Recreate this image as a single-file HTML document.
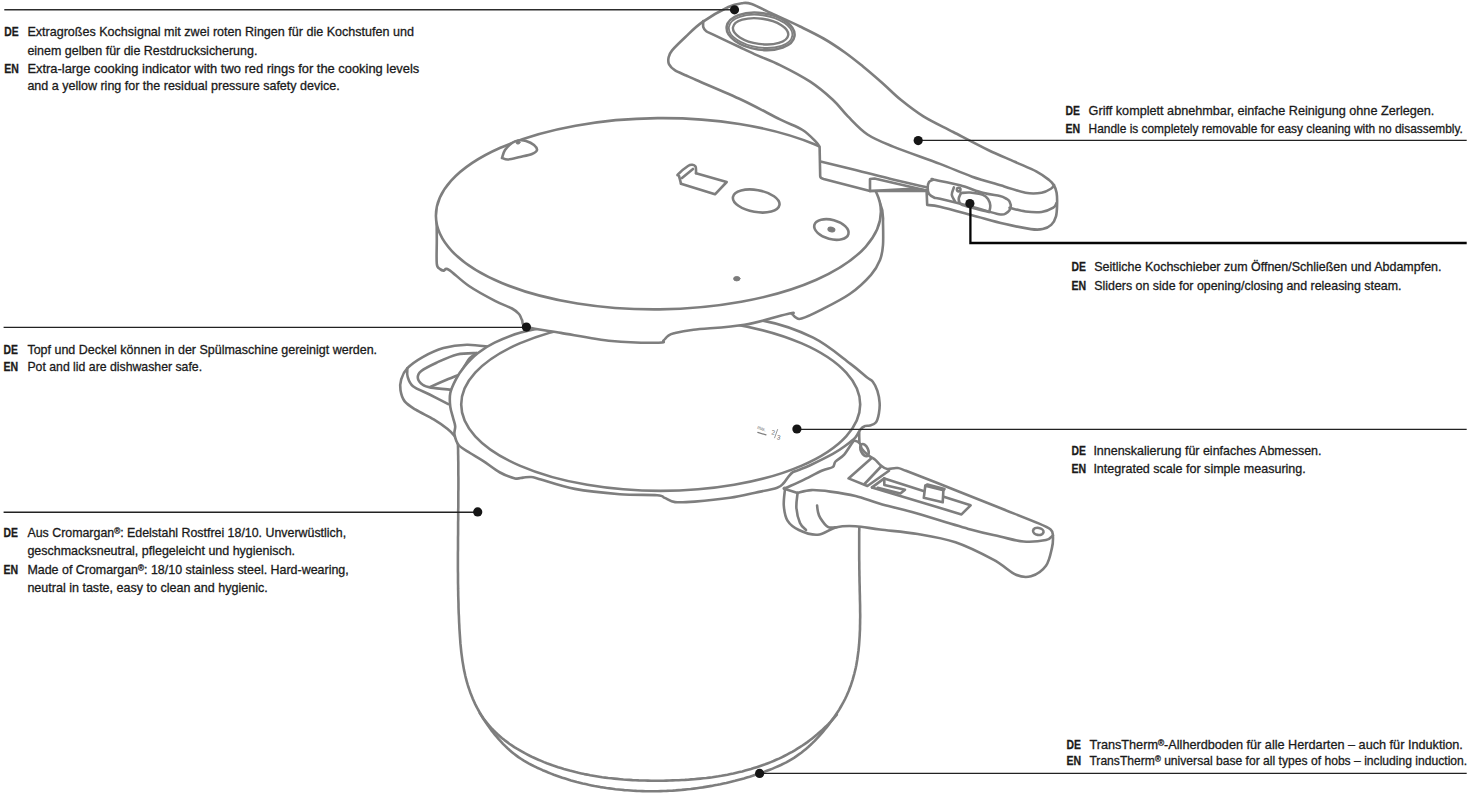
<!DOCTYPE html>
<html><head><meta charset="utf-8"><style>
html,body{margin:0;padding:0;background:#fff;}
body{width:1470px;height:795px;overflow:hidden;position:relative;}
svg{position:absolute;left:0;top:0;}
text{font-family:"Liberation Sans",sans-serif;fill:#1a1a1a;stroke:#1a1a1a;stroke-width:0.3px;}
</style></head><body>
<svg width="1470" height="795" viewBox="0 0 1470 795">
<g fill="none" stroke="#7e7e7e" stroke-width="2.6" stroke-linejoin="round" stroke-linecap="round">
<path d="M457.8,438.0 L457.8,441.0 L457.9,444.0 L458.0,447.1 L458.1,450.1 L458.1,453.1 L458.2,456.1 L458.2,459.1 L458.3,462.1 L458.3,465.1 L458.3,468.2 L458.3,471.2 L458.3,474.2 L458.4,477.2 L458.4,480.2 L458.4,483.2 L458.4,486.3 L458.4,489.3 L458.3,492.3 L458.3,495.3 L458.3,498.3 L458.3,501.3 L458.3,504.4 L458.3,507.4 L458.2,510.4 L458.2,513.4 L458.2,516.4 L458.2,519.4 L458.1,522.5 L458.1,525.5 L458.1,528.5 L458.1,531.5 L458.1,534.5 L458.0,537.6 L458.0,540.6 L458.0,543.6 L458.0,546.6 L458.0,549.6 L457.9,552.6 L457.9,555.7 L457.9,558.7 L457.9,561.7 L457.9,564.7 L457.9,567.7 L457.9,570.8 L458.0,573.8 L458.0,576.8 L458.0,579.8 L458.0,582.8 L458.1,585.8 L458.1,588.9 L458.2,591.9 L458.2,594.9 L458.3,597.9 L458.4,600.9 L458.5,604.0 L458.5,607.0 L458.6,610.0 L458.7,613.0 L458.9,616.0 L459.0,619.0 L459.1,622.1 L459.3,625.1 L459.4,628.1 L459.6,631.1 L459.8,634.1 L460.0,637.1 L460.2,640.2 L460.4,643.2 L460.7,646.2 L461.0,649.2 L461.3,652.1 L461.7,655.1 L462.1,658.1 L462.5,661.1 L463.0,664.0 L463.5,667.0 L464.0,669.9 L464.7,672.9 L465.3,675.8 L466.0,678.7 L466.8,681.6 L467.6,684.4 L468.5,687.3 L469.5,690.1 L470.5,693.0 L471.6,695.8 L472.7,698.6 L473.9,701.3 L475.2,704.1 L476.6,706.8 L478.0,709.5 L479.5,712.2 L481.0,714.9 L482.6,717.5 L484.2,720.1 L485.9,722.6 L487.6,725.1 L489.4,727.6 L491.2,730.1 L493.1,732.5 L495.0,734.8 L497.0,737.1 L498.9,739.4 L501.0,741.6 L503.0,743.8 L505.1,745.9 L507.3,748.0 L509.5,750.0 L511.7,751.9 L514.0,753.8 L516.4,755.6 L518.8,757.4 L521.3,759.0 L523.8,760.6 L526.4,762.1 L529.0,763.6 L531.7,765.0 L534.4,766.3 L537.1,767.7 L539.9,768.9 L542.6,770.2 L545.4,771.3 L548.2,772.5 L551.0,773.6 L553.8,774.7 L556.6,775.7 L559.5,776.7 L562.3,777.7 L565.2,778.6 L568.1,779.5 L571.0,780.4 L573.9,781.2 L576.8,782.0 L579.7,782.7 L582.6,783.5 L585.6,784.1 L588.5,784.8 L591.5,785.4 L594.5,786.0 L597.4,786.5 L600.4,787.1 L603.4,787.5 L606.4,788.0 L609.4,788.4 L612.4,788.8 L615.4,789.2 L618.4,789.5 L621.4,789.8 L624.4,790.1 L627.4,790.3 L630.4,790.5 L633.5,790.7 L636.5,790.9 L639.5,791.0 L642.5,791.1 L645.6,791.2 L648.6,791.2 L651.6,791.2 L654.6,791.2 L657.7,791.2 L660.7,791.1 L663.7,791.0 L666.7,790.9 L669.7,790.7 L672.7,790.6 L675.7,790.4 L678.7,790.1 L681.7,789.9 L684.7,789.6 L687.7,789.3 L690.7,789.0 L693.7,788.6 L696.7,788.2 L699.7,787.8 L702.7,787.4 L705.6,786.9 L708.6,786.4 L711.6,785.9 L714.5,785.3 L717.5,784.8 L720.4,784.2 L723.4,783.5 L726.3,782.9 L729.3,782.2 L732.2,781.5 L735.1,780.8 L738.0,780.0 L741.0,779.2 L743.9,778.4 L746.8,777.5 L749.7,776.7 L752.6,775.8 L755.5,774.8 L758.3,773.9 L761.2,772.9 L764.1,771.9 L766.9,770.8 L769.8,769.7 L772.6,768.6 L775.4,767.4 L778.1,766.2 L780.9,765.0 L783.6,763.6 L786.3,762.3 L788.9,760.8 L791.5,759.3 L794.0,757.8 L796.5,756.1 L798.9,754.4 L801.3,752.7 L803.7,750.8 L806.0,748.9 L808.2,747.0 L810.4,745.0 L812.6,742.9 L814.7,740.8 L816.8,738.6 L818.9,736.4 L820.9,734.1 L822.9,731.8 L824.8,729.5 L826.8,727.1 L828.7,724.7 L830.5,722.3 L832.3,719.8 L834.1,717.3 L835.8,714.8 L837.5,712.2 L839.2,709.6 L840.7,707.0 L842.2,704.3 L843.7,701.7 L845.1,699.0 L846.4,696.3 L847.6,693.5 L848.8,690.8 L849.8,688.0 L850.9,685.2 L851.8,682.4 L852.7,679.6 L853.5,676.7 L854.3,673.8 L855.0,671.0 L855.7,668.1 L856.3,665.2 L856.8,662.3 L857.3,659.3 L857.7,656.4 L858.1,653.4 L858.5,650.5 L858.8,647.5 L859.1,644.5 L859.3,641.5 L859.5,638.5 L859.7,635.5 L859.8,632.5 L860.0,629.4 L860.0,626.4 L860.1,623.4 L860.1,620.3 L860.2,617.3 L860.2,614.2 L860.1,611.2 L860.1,608.1 L860.1,605.1 L860.0,602.0 L859.9,599.0 L859.9,595.9 L859.8,592.9 L859.7,589.8 L859.7,586.7 L859.6,583.7 L859.5,580.7 L859.5,577.6 L859.4,574.6 L859.4,571.5 L859.3,568.5 L859.3,565.5 L859.3,562.5 L859.2,559.4 L859.2,556.4 L859.2,553.4 L859.2,550.4 L859.2,547.4 L859.2,544.4 L859.2,541.4 L859.2,538.4 L859.2,535.4 L859.2,532.4 L859.3,529.4 L859.3,526.4 L859.3,523.4 L859.3,520.4 L859.4,517.4 L859.4,514.4 L859.4,511.4 L859.4,508.4 L859.4,505.4 L859.5,502.4 L859.5,499.4 L859.5,496.4 L859.5,493.4 L859.6,490.4 L859.6,487.4 L859.6,484.4 L859.6,481.4 L859.6,478.4 L859.6,475.4 L859.6,472.4 L859.6,469.4 L859.6,466.4 L859.6,463.4 L859.6,460.3 L859.6,457.3 L859.5,454.3 L859.5,451.3 L859.5,448.2 L859.4,445.2 L859.4,442.1 L859.3,439.1 L859.2,436.0 L859.2,433.0 L859.1,429.9" fill="none"/>
<path d="M479.8,713.0 L481.5,715.6 L483.3,718.2 L485.2,720.7 L487.1,723.1 L489.1,725.5 L491.1,727.8 L493.2,730.0 L495.4,732.1 L497.6,734.2 L499.8,736.2 L502.1,738.2 L504.5,740.1 L506.9,741.9 L509.3,743.7 L511.8,745.4 L514.3,747.1 L516.9,748.7 L519.5,750.2 L522.1,751.7 L524.8,753.2 L527.5,754.6 L530.2,756.0 L532.9,757.3 L535.6,758.5 L538.4,759.8 L541.2,760.9 L544.0,762.1 L546.8,763.2 L549.6,764.2 L552.4,765.3 L555.3,766.2 L558.1,767.2 L561.0,768.1 L563.9,769.0 L566.7,769.8 L569.6,770.6 L572.6,771.3 L575.5,772.1 L578.4,772.8 L581.3,773.4 L584.3,774.1 L587.3,774.6 L590.2,775.2 L593.2,775.7 L596.2,776.2 L599.2,776.7 L602.2,777.2 L605.2,777.6 L608.2,778.0 L611.2,778.3 L614.3,778.6 L617.3,778.9 L620.3,779.2 L623.4,779.5 L626.4,779.7 L629.5,779.9 L632.5,780.1 L635.6,780.2 L638.7,780.4 L641.7,780.5 L644.8,780.5 L647.9,780.6 L651.0,780.7 L654.0,780.7 L657.1,780.7 L660.2,780.7 L663.3,780.7 L666.4,780.6 L669.5,780.5 L672.6,780.4 L675.7,780.3 L678.7,780.2 L681.8,780.0 L684.9,779.9 L688.0,779.7 L691.1,779.4 L694.1,779.2 L697.2,778.9 L700.3,778.6 L703.3,778.3 L706.4,778.0 L709.4,777.6 L712.4,777.2 L715.5,776.7 L718.5,776.3 L721.5,775.8 L724.5,775.2 L727.5,774.7 L730.5,774.1 L733.4,773.5 L736.4,772.8 L739.3,772.1 L742.3,771.4 L745.2,770.6 L748.1,769.8 L751.0,769.0 L753.8,768.1 L756.7,767.2 L759.5,766.3 L762.4,765.3 L765.2,764.3 L768.0,763.2 L770.8,762.1 L773.5,761.0 L776.2,759.8 L779.0,758.6 L781.7,757.3 L784.3,756.0 L787.0,754.6 L789.6,753.2 L792.2,751.8 L794.8,750.3 L797.4,748.7 L799.9,747.1 L802.4,745.5 L804.9,743.8 L807.4,742.1 L809.8,740.3 L812.2,738.4 L814.6,736.5 L817.0,734.6 L819.3,732.6 L821.6,730.6 L823.8,728.5 L826.1,726.3 L828.3,724.1 L830.5,721.8 L832.6,719.5 L834.7,717.1 L836.8,714.7" fill="none"/>
<path d="M489.0,346.8 C485.3,346.4 474.5,344.5 466.9,344.7 C459.3,344.9 450.8,346.0 443.4,348.1 C436.0,350.2 428.7,353.8 422.7,357.1 C416.7,360.5 411.0,364.5 407.4,368.2 C403.8,371.9 402.3,375.6 401.2,379.3 C400.1,383.0 399.9,386.6 400.5,390.3 C401.1,394.0 402.2,398.2 404.7,401.4 C407.2,404.6 410.9,406.7 415.7,409.7 C420.5,412.7 428.4,416.2 433.7,419.4 C439.0,422.6 444.1,426.2 447.6,429.0 C451.1,431.8 452.9,433.9 454.5,436.0 C456.1,438.1 456.8,440.6 457.2,441.5" fill="#fff"/>
<path d="M407.4,368.2 C407.4,369.6 406.7,373.5 407.6,376.5 C408.5,379.5 409.3,383.2 413.0,386.2 C416.7,389.2 423.7,391.5 429.6,394.5 C435.5,397.5 445.2,402.6 448.3,404.2" fill="none"/>
<path d="M476.6,353.0 C473.4,353.2 463.9,352.8 457.2,354.4 C450.5,356.0 442.5,359.9 436.5,362.7 C430.5,365.5 424.4,368.5 421.3,371.0 C418.2,373.5 417.6,375.6 417.8,377.9 C418.0,380.2 420.5,383.2 422.7,384.8 C424.9,386.4 426.4,386.8 431.0,387.6 C435.6,388.4 447.1,389.3 450.3,389.6" fill="none"/>
<path d="M430.3,386.9 C432.9,385.8 441.1,382.1 446.0,380.0 C450.9,377.9 457.7,375.3 460.0,374.4" fill="none"/>
<path d="M476.6,353.0 C475.5,353.8 472.1,355.7 470.0,358.0 C467.9,360.3 465.9,364.1 464.2,366.8 C462.5,369.5 460.7,373.1 460.0,374.4" fill="none"/>
<path d="M785.0,489.0 C784.8,491.9 783.4,500.2 783.8,505.5 C784.2,510.8 785.0,516.5 787.5,520.6 C790.0,524.7 793.9,527.6 798.9,530.0 C803.9,532.4 811.4,535.2 817.7,534.7 C824.0,534.2 830.3,528.6 836.6,527.2 C842.9,525.8 848.3,525.8 855.5,526.2 C862.7,526.6 869.6,528.2 880.0,529.5 C890.4,530.8 905.2,531.9 917.8,534.0 C930.4,536.1 942.9,538.0 955.5,542.3 C968.1,546.6 983.2,554.3 993.3,559.7 C1003.4,565.1 1009.7,572.0 1016.0,574.8 C1022.3,577.6 1026.0,577.8 1031.0,576.3 C1036.0,574.8 1042.5,570.5 1046.0,565.7 C1049.5,560.9 1050.8,552.6 1052.0,547.6 C1053.2,542.6 1053.1,538.5 1052.9,535.5 C1052.7,532.5 1053.0,531.5 1050.6,529.5 C1048.2,527.5 1046.9,526.9 1038.6,523.4 C1030.3,519.9 1014.6,513.8 1000.8,508.3 C986.9,502.8 971.3,496.4 955.5,490.2 C939.7,483.9 915.8,474.5 906.0,470.8 C896.2,467.1 899.7,468.3 896.6,468.0 C893.5,467.7 889.9,469.5 887.2,469.0 C884.5,468.5 882.7,466.8 880.6,465.2 C878.5,463.6 877.0,461.1 874.9,459.5 C872.8,457.9 870.4,457.1 868.3,455.3 C866.1,453.6 863.4,451.0 862.0,449.0 C860.6,447.0 861.0,444.9 859.8,443.5 C858.6,442.1 856.2,441.0 855.0,440.8 C853.8,440.6 854.3,440.2 852.5,442.5 C850.7,444.8 847.0,451.4 844.2,454.6 C841.4,457.8 837.4,459.4 835.5,461.5 C833.6,463.6 835.0,465.5 832.8,467.0 C830.6,468.5 827.3,468.3 822.3,470.5 C817.3,472.7 808.8,477.3 802.6,480.3 C796.4,483.3 787.9,486.9 785.0,488.3 C782.1,489.8 785.2,486.1 785.0,489.0 Z" fill="#fff"/>
<path d="M797.6,492.9 C797.4,495.4 796.0,503.0 796.4,508.0 C796.8,513.0 798.4,519.3 800.0,523.0 C801.6,526.7 805.0,528.8 806.0,530.0" fill="none"/>
<path d="M785.0,489.0 L797.6,492.9" fill="none"/>
<path d="M797.6,492.9 C799.9,492.4 806.0,490.3 811.4,490.1 C816.8,489.9 822.9,490.6 830.3,491.6 C837.6,492.6 847.2,494.0 855.5,496.0 C863.8,498.0 870.6,501.1 880.0,503.8 C889.4,506.5 896.9,507.7 912.0,512.0 C927.1,516.3 955.9,525.4 970.6,529.5 C985.3,533.6 991.2,534.5 1000.0,536.5 C1008.8,538.5 1015.8,540.9 1023.5,541.5 C1031.2,542.1 1041.1,541.0 1046.0,540.0 C1050.9,539.0 1051.8,536.2 1052.9,535.5" fill="none"/>
<path d="M817.1,505.5 C817.2,506.6 817.5,509.9 818.0,512.0 C818.5,514.1 818.7,515.5 820.3,518.0 C821.9,520.5 825.1,525.4 827.8,526.9 C830.5,528.4 835.1,527.2 836.6,527.2" fill="none"/>
<ellipse cx="864.5" cy="450.1" rx="3.6" ry="6.5" fill="none" transform="rotate(-25 864.5 450.1)"/>
<path d="M871.1,458.6 L848.5,478.4 L867.4,486.0 L889.0,470.8" fill="none"/>
<path d="M880.6,467.0 L864.5,484.0" fill="none"/>
<path d="M872.0,487.4 L884.3,478.4 L925.0,491.6" fill="none"/>
<path d="M872.0,487.4 L961.5,514.4 L970.6,505.3 L935.0,494.0" fill="none"/>
<path d="M884.3,478.4 L884.3,485.0 L905.0,489.7 L900.4,493.5 L877.7,487.8" fill="none"/>
<path d="M925.3,485.7 L943.4,490.2 L942.7,502.3 L923.8,497.8 Z" fill="#fff"/>
<path d="M925.3,485.7 L927.5,484.5 L944.5,489.0 L943.4,490.2" fill="none"/>
<ellipse cx="1038.3" cy="531.4" rx="5.3" ry="3.5" fill="none" transform="rotate(10 1038.3 531.4)"/>
<path d="M458.6,445.0 C456.0,441.9 455.1,437.7 454.5,434.6 C453.9,431.5 455.4,429.1 455.2,426.3 C455.0,423.5 453.9,421.2 453.1,418.0 C452.3,414.8 450.8,411.0 450.3,406.9 C449.8,402.8 449.4,397.7 450.3,393.1 C451.2,388.5 453.6,383.7 455.9,379.3 C458.2,374.9 460.5,371.2 464.2,366.8 C467.9,362.4 472.9,357.0 478.0,353.0 C483.1,349.0 487.5,346.0 494.6,342.6 C501.7,339.2 509.9,335.5 520.8,332.6 C531.7,329.7 543.5,327.4 560.0,325.0 C576.5,322.6 596.7,320.0 620.0,318.5 C643.3,317.0 676.2,315.6 700.0,316.0 C723.8,316.4 744.0,317.0 762.9,320.6 C781.8,324.2 798.7,330.5 813.2,337.7 C827.8,344.9 841.3,357.0 850.2,363.6 C859.1,370.2 863.0,374.2 866.8,377.2 C870.6,380.2 871.0,379.4 872.8,381.7 C874.6,384.0 876.3,387.3 877.4,390.8 C878.5,394.3 879.4,399.0 879.6,402.8 C879.9,406.6 879.5,410.1 878.9,413.4 C878.3,416.7 877.3,420.5 875.8,422.5 C874.3,424.5 871.7,424.9 869.8,425.5 C867.9,426.1 866.1,425.4 864.5,426.2 C862.9,426.9 861.5,428.1 860.0,430.0 C858.5,431.9 858.0,434.6 855.5,437.3 C853.0,440.0 848.8,443.2 845.0,446.0 C841.2,448.8 838.6,450.7 832.8,453.9 C827.0,457.1 815.7,462.6 810.2,465.2 C804.7,467.8 802.9,468.3 800.0,469.5 C797.1,470.7 794.8,471.0 792.9,472.2 C791.0,473.4 790.1,474.8 788.5,476.6 C786.9,478.5 785.4,481.5 783.5,483.3 C781.6,485.1 781.9,486.1 777.2,487.7 C772.5,489.3 763.1,491.0 755.2,492.7 C747.3,494.4 740.1,496.3 730.0,497.8 C719.9,499.3 703.8,500.9 694.6,501.6 C685.5,502.3 680.1,502.7 675.1,502.1 C670.1,501.5 667.7,499.0 664.7,497.9 C661.7,496.8 664.7,495.8 657.2,495.2 C649.7,494.6 633.5,495.2 619.8,494.2 C606.1,493.1 588.5,491.5 574.8,488.9 C561.1,486.3 544.9,480.4 537.4,478.4 C529.9,476.4 532.4,477.1 530.0,477.0 C527.6,476.9 525.5,477.4 523.0,477.6 C520.5,477.8 518.8,479.2 515.0,478.4 C511.2,477.5 505.3,475.4 500.0,472.5 C494.7,469.6 488.0,464.1 483.0,460.9 C478.0,457.6 474.1,455.6 470.0,453.0 C465.9,450.4 461.2,448.1 458.6,445.0 Z" fill="#fff"/>
<ellipse cx="660.7" cy="404.5" rx="199.5" ry="86.4" fill="none"/>
<text style="stroke:none;font-family:Liberation Sans;fill:#6a6a6a;font-size:5.2px" x="757" y="428.8" textLength="8.8" lengthAdjust="spacingAndGlyphs" transform="rotate(18 757 428.8)">max.</text>
<text style="stroke:none;font-family:Liberation Sans;fill:#6a6a6a;font-size:6.4px" x="771" y="434.3" transform="rotate(12 771 434.3)">2</text>
<text style="stroke:none;font-family:Liberation Sans;fill:#6a6a6a;font-size:6.4px" x="776.6" y="439.3" transform="rotate(12 776.6 439.3)">3</text>
<path d="M757.8,432.4 L766.0,434.9" fill="none" stroke-width="1.2"/>
<path d="M774.6,437.8 L777.6,429.5" fill="none" stroke-width="0.8"/>
<path d="M436.6,216.0 C436.6,220.0 436.8,232.0 436.8,240.0 C436.8,248.0 436.3,259.0 436.8,263.8 C437.3,268.6 438.9,267.9 440.0,269.0 C441.1,270.1 442.1,270.5 443.6,270.6 C445.1,270.7 444.7,267.2 448.9,269.8 C453.1,272.4 461.3,280.8 469.0,286.0 C476.7,291.2 487.8,297.1 495.0,300.8 C502.2,304.6 508.0,306.3 512.0,308.5 C516.0,310.7 517.3,312.1 519.0,314.0 C520.7,315.9 520.7,317.8 522.0,320.0 C523.3,322.2 520.5,324.9 527.0,327.0 C533.5,329.1 546.7,330.6 560.8,332.9 C574.9,335.2 595.5,339.4 611.8,341.0 C628.1,342.6 650.2,342.8 658.8,342.7 C667.4,342.6 662.0,341.6 663.5,340.5 C665.0,339.4 666.2,337.2 668.0,336.0 C669.8,334.8 669.8,334.2 674.0,333.2 C678.2,332.2 681.8,331.2 693.5,329.8 C705.2,328.4 728.5,327.4 744.5,324.7 C760.5,322.0 781.4,315.2 789.4,313.5 C797.4,311.8 791.4,313.8 792.5,314.5 C793.6,315.2 794.5,316.9 796.0,317.6 C797.5,318.3 797.6,319.8 801.6,318.6 C805.6,317.4 812.0,314.5 820.0,310.4 C828.0,306.3 841.2,299.9 849.7,294.0 C858.2,288.1 866.0,280.5 871.0,274.8 C876.0,269.1 878.0,265.0 880.0,260.0 C882.0,255.0 882.5,251.5 883.0,245.0 C883.5,238.5 883.0,225.0 883.0,221.0 A222.5 95.6 0 0 0 436.6 216 Z" fill="#fff"/>
<ellipse cx="658.4" cy="213.75" rx="222.5" ry="95.6" fill="#fff" transform="rotate(-0.6 658.4 213.75)"/>
<path d="M502.0,158.0 C502.5,156.7 503.3,152.5 505.0,150.0 C506.7,147.5 509.8,144.6 512.0,143.0 C514.2,141.4 515.7,140.8 518.0,140.5 C520.3,140.2 523.3,140.2 526.0,141.0 C528.7,141.8 532.2,143.5 534.0,145.0 C535.8,146.5 537.3,148.5 537.0,150.0 C536.7,151.5 534.8,152.8 532.0,154.0 C529.2,155.2 524.0,156.1 520.0,157.0 C516.0,157.9 511.0,159.3 508.0,159.5 C505.0,159.7 503.0,158.2 502.0,158.0" fill="#fff"/>
<ellipse cx="518" cy="142.5" rx="2" ry="1.6" fill="#7b7b7b" stroke-width="1"/>
<path d="M681.0,183.8 L715.0,194.3 L726.7,182.0 L696.0,173.3" fill="none"/>
<path d="M681.0,183.8 C680.7,182.5 679.5,177.6 679.0,176.0 C678.5,174.4 676.5,176.0 678.0,174.3 C679.5,172.6 685.6,167.6 688.0,166.0 C690.4,164.4 691.1,164.7 692.4,164.8 C693.6,164.9 694.9,165.6 695.5,166.5 C696.1,167.4 695.9,168.9 696.0,170.0 C696.1,171.1 696.0,172.8 696.0,173.3" fill="none"/>
<path d="M682.0,178.0 L693.0,169.0" fill="none"/>
<ellipse cx="756.2" cy="201" rx="23.6" ry="11" fill="none" transform="rotate(10 756.2 201)"/>
<ellipse cx="831.4" cy="229.5" rx="17.6" ry="9.6" fill="none" transform="rotate(15 831.4 229.5)"/>
<ellipse cx="831.4" cy="229.5" rx="3.5" ry="2.2" fill="#7b7b7b" transform="rotate(15 831.4 229.5)" stroke-width="1.2"/>
<ellipse cx="736.8" cy="278.7" rx="3.2" ry="2.2" fill="#7b7b7b" stroke-width="1"/>
<path d="M819.6,146.8 C819.0,146.0 819.0,144.9 816.2,142.1 C813.4,139.3 808.6,133.8 802.6,130.0 C796.6,126.2 790.1,124.4 780.0,119.4 C769.9,114.4 756.0,106.6 742.0,100.0 C728.0,93.4 705.5,84.1 696.2,80.0 C686.9,75.9 689.7,77.1 686.2,75.5 C682.7,73.9 678.0,72.2 675.1,70.4 C672.2,68.6 670.2,66.6 669.1,64.4 C668.0,62.2 668.1,59.8 668.6,57.4 C669.1,55.0 669.3,53.7 672.1,50.3 C674.9,46.9 680.2,41.9 685.2,37.2 C690.2,32.5 695.1,27.1 702.3,22.1 C709.5,17.1 721.8,10.1 728.4,7.0 C735.0,3.9 737.9,3.8 741.8,3.3 C745.7,2.8 746.1,2.2 751.6,4.1 C757.1,6.0 766.4,11.0 774.5,14.7 C782.6,18.4 791.8,22.5 800.0,26.5 C808.2,30.5 816.0,34.2 823.5,38.5 C831.0,42.8 838.4,47.8 845.0,52.5 C851.6,57.2 856.7,61.4 863.0,66.5 C869.3,71.6 876.3,77.7 882.6,83.2 C888.9,88.8 894.0,94.3 900.8,99.8 C907.6,105.3 914.7,111.0 923.4,116.4 C932.1,121.8 942.4,126.4 953.2,132.0 C964.0,137.6 977.8,145.0 988.1,150.0 C998.4,155.0 1006.8,158.2 1014.8,161.8 C1022.8,165.4 1030.5,168.4 1036.2,171.4 C1041.9,174.4 1046.1,177.7 1049.1,180.0 C1052.0,182.3 1052.7,183.2 1053.9,185.3 C1055.2,187.4 1056.1,189.8 1056.6,192.8 C1057.1,195.8 1057.2,199.6 1057.1,203.5 C1057.0,207.4 1057.0,212.7 1056.0,216.3 C1055.0,219.9 1053.4,222.8 1051.2,224.9 C1049.0,227.0 1046.1,228.4 1042.7,229.1 C1039.3,229.8 1037.3,230.0 1030.9,229.1 C1024.5,228.2 1014.0,226.1 1004.2,223.8 C994.4,221.5 982.8,218.0 972.1,215.2 C961.4,212.3 947.5,208.4 940.0,206.7 C932.5,205.0 929.3,205.3 927.2,205.0 L926.6,191 L870,191 L823.6,179 Q820.2,178 820.2,176.2 L819.6,146.8 Z" fill="#fff"/>
<path d="M703.3,21.0 C703.3,22.0 702.8,25.5 703.3,27.2 C703.8,28.9 704.6,29.9 706.3,31.2 C708.0,32.5 707.7,32.0 713.3,34.7 C718.9,37.4 732.5,43.8 740.0,47.3 C747.5,50.8 751.3,52.6 758.0,55.6 C764.7,58.6 771.3,60.7 780.0,65.1 C788.7,69.4 801.4,75.9 810.2,81.7 C819.0,87.5 826.5,94.0 832.8,99.8 C839.1,105.6 842.1,110.6 847.9,116.4 C853.7,122.2 860.0,129.5 867.5,134.5 C875.0,139.5 881.1,141.7 893.2,146.6 C905.3,151.5 926.9,158.9 940.0,163.9 C953.1,168.9 961.4,172.9 972.1,176.7 C982.8,180.4 995.3,183.7 1004.2,186.4 C1013.1,189.1 1019.3,191.7 1025.5,192.8 C1031.7,193.9 1037.3,193.5 1041.6,192.8 C1045.9,192.1 1049.1,189.8 1051.2,188.5 C1053.3,187.2 1053.5,185.6 1054.0,185.0" fill="none"/>
<path d="M820.5,161.5 C826.3,162.9 843.1,166.9 855.5,170.0 C867.9,173.1 883.0,177.1 895.0,180.0 C907.0,182.9 922.2,186.2 927.7,187.5" fill="none"/>
<path d="M1009.5,207.7 C1012.2,208.3 1020.1,210.8 1025.5,211.5 C1030.8,212.2 1037.0,212.6 1041.6,212.0 C1046.2,211.4 1050.8,209.2 1053.3,207.7 C1055.8,206.2 1056.0,203.8 1056.5,203.0" fill="none"/>
<path d="M870.0,191.0 L870.0,179.0 L874.5,178.5 L923.2,189.8" fill="none"/>
<path d="M870.0,191.0 L911.9,188.7 L926.6,190.4" fill="none"/>
<path d="M933.4,179.6 C937.8,180.6 951.8,183.1 960.0,185.3 C968.2,187.5 976.1,191.0 982.8,192.8 C989.4,194.6 996.0,195.1 999.9,196.0 C1003.8,196.9 1004.4,197.6 1006.0,198.5 C1007.6,199.4 1008.7,199.8 1009.5,201.3 C1010.3,202.8 1011.1,205.7 1010.6,207.7 C1010.1,209.7 1008.3,212.0 1006.3,213.1 C1004.3,214.2 1004.5,215.3 998.8,214.2 C993.1,213.1 981.9,209.3 972.1,206.7 C962.3,204.1 946.3,200.2 940.0,198.7 C933.7,197.2 936.3,198.5 934.5,197.7 C932.7,196.9 930.1,195.6 929.0,194.0 C927.9,192.4 927.7,190.0 927.7,188.0 C927.7,186.0 928.0,183.4 929.0,182.0 C930.0,180.6 932.7,180.0 933.4,179.6 C934.1,179.2 929.0,178.6 933.4,179.6 Z" fill="none"/>
<path d="M961.0,193.0 C962.5,192.9 966.4,192.2 970.0,192.5 C973.6,192.8 979.8,193.8 982.8,194.9 C985.8,196.0 986.8,197.2 988.0,199.0 C989.2,200.8 990.1,203.4 990.3,205.6 C990.5,207.8 989.4,210.9 989.2,212.0" fill="none"/>
<path d="M989.2,212.0 C986.8,211.4 979.6,209.8 975.0,208.5 C970.4,207.2 964.1,206.1 961.4,204.5 C958.7,202.9 958.8,200.9 958.7,199.0 C958.6,197.1 960.6,194.0 961.0,193.0" fill="none"/>
<path d="M953.9,187.4 C953.5,188.7 951.6,192.6 951.8,194.9 C952.0,197.2 954.5,200.2 955.0,201.3" fill="none"/>
<ellipse cx="958.7" cy="189.6" rx="1.8" ry="1.8" fill="none"/>
<ellipse cx="760.6" cy="31.3" rx="34.2" ry="18.3" fill="none" transform="rotate(8 760.6 31.3)"/>
<ellipse cx="760.6" cy="31.3" rx="32.0" ry="16.2" fill="none" transform="rotate(8 760.6 31.3)" stroke-width="1.8"/>
<ellipse cx="760.6" cy="31.3" rx="27.9" ry="12.7" fill="none" transform="rotate(8 760.6 31.3)" stroke-width="2.4"/>
</g>
<g>
<path d="M4.3,9.7 L734.5,9.7" fill="none" stroke="#2c2c2c" stroke-width="1.5"/>
<circle cx="734.5" cy="9.8" r="4.6" fill="#151515"/>
<path d="M918.3,140.4 L1466.7,140.4" fill="none" stroke="#222" stroke-width="1.35"/>
<circle cx="918.2" cy="140.6" r="4.6" fill="#151515"/>
<path d="M970.4,203.5 L970.4,243.0 L1466.7,243.0" fill="none" stroke="#050505" stroke-width="2.3"/>
<circle cx="969.9" cy="203.5" r="4.6" fill="#151515"/>
<path d="M3.6,327.4 L526.6,327.4" fill="none" stroke="#222" stroke-width="1.35"/>
<circle cx="526.4" cy="327.1" r="4.6" fill="#151515"/>
<path d="M796.9,429.4 L1466.7,429.4" fill="none" stroke="#222" stroke-width="1.35"/>
<circle cx="796.9" cy="429" r="4.6" fill="#151515"/>
<path d="M3.6,512.2 L477.7,512.2" fill="none" stroke="#222" stroke-width="1.35"/>
<circle cx="477.7" cy="511.9" r="4.6" fill="#151515"/>
<path d="M759.6,773.4 L1466.7,773.4" fill="none" stroke="#222" stroke-width="1.35"/>
<circle cx="759.6" cy="773.4" r="4.6" fill="#151515"/>
</g>
<g>
<text x="4.2" y="36.2" textLength="14.4" lengthAdjust="spacingAndGlyphs" font-size="13" font-weight="bold">DE</text>
<text x="27.4" y="36.2" textLength="386.5" lengthAdjust="spacingAndGlyphs" font-size="13">Extragroßes Kochsignal mit zwei roten Ringen für die Kochstufen und</text>
<text x="27.4" y="54.9" textLength="230.0" lengthAdjust="spacingAndGlyphs" font-size="13">einem gelben für die Restdrucksicherung.</text>
<text x="4.2" y="72.8" textLength="14.6" lengthAdjust="spacingAndGlyphs" font-size="13" font-weight="bold">EN</text>
<text x="27.4" y="72.8" textLength="391.9" lengthAdjust="spacingAndGlyphs" font-size="13">Extra-large cooking indicator with two red rings for the cooking levels</text>
<text x="27.4" y="90.3" textLength="312.3" lengthAdjust="spacingAndGlyphs" font-size="13">and a yellow ring for the residual pressure safety device.</text>
<text x="1065.6" y="114.5" textLength="14.4" lengthAdjust="spacingAndGlyphs" font-size="13" font-weight="bold">DE</text>
<text x="1088.6" y="114.5" textLength="345.8" lengthAdjust="spacingAndGlyphs" font-size="13">Griff komplett abnehmbar, einfache Reinigung ohne Zerlegen.</text>
<text x="1065.6" y="132.8" textLength="14.6" lengthAdjust="spacingAndGlyphs" font-size="13" font-weight="bold">EN</text>
<text x="1088.6" y="132.8" textLength="374.3" lengthAdjust="spacingAndGlyphs" font-size="13">Handle is completely removable for easy cleaning with no disassembly.</text>
<text x="1071.4" y="271.4" textLength="14.4" lengthAdjust="spacingAndGlyphs" font-size="13" font-weight="bold">DE</text>
<text x="1094.3" y="271.4" textLength="347.2" lengthAdjust="spacingAndGlyphs" font-size="13">Seitliche Kochschieber zum Öffnen/Schließen und Abdampfen.</text>
<text x="1071.4" y="290" textLength="14.6" lengthAdjust="spacingAndGlyphs" font-size="13" font-weight="bold">EN</text>
<text x="1094.3" y="290" textLength="307.2" lengthAdjust="spacingAndGlyphs" font-size="13">Sliders on side for opening/closing and releasing steam.</text>
<text x="3.6" y="353.8" textLength="14.4" lengthAdjust="spacingAndGlyphs" font-size="13" font-weight="bold">DE</text>
<text x="27.4" y="353.8" textLength="349.7" lengthAdjust="spacingAndGlyphs" font-size="13">Topf und Deckel können in der Spülmaschine gereinigt werden.</text>
<text x="3.6" y="371.3" textLength="14.6" lengthAdjust="spacingAndGlyphs" font-size="13" font-weight="bold">EN</text>
<text x="27.4" y="371.3" textLength="174.7" lengthAdjust="spacingAndGlyphs" font-size="13">Pot and lid are dishwasher safe.</text>
<text x="3.6" y="536.8" textLength="14.4" lengthAdjust="spacingAndGlyphs" font-size="13" font-weight="bold">DE</text>
<text x="27.4" y="536.8" textLength="318.7" lengthAdjust="spacingAndGlyphs" font-size="13">Aus Cromargan<tspan style="font-size:8.5px;baseline-shift:30%">®</tspan>: Edelstahl Rostfrei 18/10. Unverwüstlich,</text>
<text x="27.4" y="555" textLength="267.7" lengthAdjust="spacingAndGlyphs" font-size="13">geschmacksneutral, pflegeleicht und hygienisch.</text>
<text x="3.6" y="574.4" textLength="14.6" lengthAdjust="spacingAndGlyphs" font-size="13" font-weight="bold">EN</text>
<text x="27.4" y="574.4" textLength="321.3" lengthAdjust="spacingAndGlyphs" font-size="13">Made of Cromargan<tspan style="font-size:8.5px;baseline-shift:30%">®</tspan>: 18/10 stainless steel. Hard-wearing,</text>
<text x="27.4" y="591.9" textLength="240.3" lengthAdjust="spacingAndGlyphs" font-size="13">neutral in taste, easy to clean and hygienic.</text>
<text x="1071.4" y="455.1" textLength="14.4" lengthAdjust="spacingAndGlyphs" font-size="13" font-weight="bold">DE</text>
<text x="1093.4" y="455.1" textLength="228.1" lengthAdjust="spacingAndGlyphs" font-size="13">Innenskalierung für einfaches Abmessen.</text>
<text x="1071.4" y="473.4" textLength="14.6" lengthAdjust="spacingAndGlyphs" font-size="13" font-weight="bold">EN</text>
<text x="1093.4" y="473.4" textLength="212.4" lengthAdjust="spacingAndGlyphs" font-size="13">Integrated scale for simple measuring.</text>
<text x="1066.6" y="748.6" textLength="14.4" lengthAdjust="spacingAndGlyphs" font-size="13" font-weight="bold">DE</text>
<text x="1089.4" y="748.6" textLength="373.5" lengthAdjust="spacingAndGlyphs" font-size="13">TransTherm<tspan style="font-size:8.5px;baseline-shift:30%">®</tspan>-Allherdboden für alle Herdarten – auch für Induktion.</text>
<text x="1066.6" y="765" textLength="14.6" lengthAdjust="spacingAndGlyphs" font-size="13" font-weight="bold">EN</text>
<text x="1089.4" y="765" textLength="377.8" lengthAdjust="spacingAndGlyphs" font-size="13">TransTherm<tspan style="font-size:8.5px;baseline-shift:30%">®</tspan> universal base for all types of hobs – including induction.</text>
</g>
</svg>
</body></html>
